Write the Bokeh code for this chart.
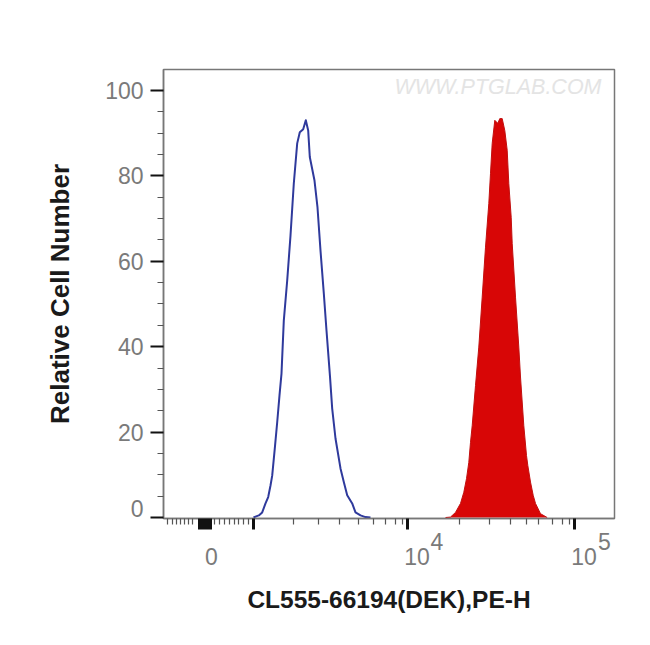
from bokeh.plotting import figure
from bokeh.embed import file_html
from bokeh.resources import INLINE
from bokeh.models import FixedTicker, Label, Range1d, LinearAxis

blue_x = [90, 92, 95.3, 98.7, 102, 104.7, 107, 108.7, 111.3, 113.7, 116, 118, 120.3, 123.7, 127, 130.3, 133.7, 136.3, 139.7,
          142.3, 144.7, 146.3, 151, 154, 157, 160.3, 163, 166.5, 168.7, 172, 177, 180.3, 183.7, 188.7, 192, 197, 202, 207]
blue_y = [0, 0.2, 0.5, 1.2, 3.3, 4.8, 7.5, 9.8, 16.2, 22.3, 28.6, 33.7, 46.1, 55.5, 66, 78.2, 87.6, 90.2, 90.9,
          93, 90.6, 84.4, 78.9, 72.6, 62.5, 52.5, 43.8, 33, 25.5, 18.5, 11.5, 8.3, 5.2, 3.3, 1.2, 0.5, 0.1, 0]
red_x = [282, 287, 292, 297, 300.3, 303, 305.3, 307, 308.7, 312, 315.3, 318.7, 322, 325.3, 327, 328.7, 331.3, 334.3, 336.3, 338.7,
         341.3, 343.7, 345.3, 347.7, 348.7, 352, 355.3, 357, 360.3, 363, 364.3, 367, 369.7, 372, 377, 383.7]
red_y = [0, 0.1, 1.2, 3.3, 5.9, 9.1, 12.9, 17.6, 21.5, 30.9, 39.9, 51.6, 63.3, 73.5, 80.6, 87.6, 93, 92.3, 93.4, 93.4,
         90.6, 86, 78.2, 70.3, 64.2, 51.6, 39.9, 32.9, 21.5, 14.5, 12.2, 8.3, 5.2, 3.3, 0.9, 0]

x_major = [35.5, 38, 41, 44, 46.5, 90, 244, 411]
x_minor = [3.7, 8.7, 12.7, 17, 21, 25, 28.7, 51, 56, 61, 66, 71, 75, 80, 85,
           130, 155, 176, 195, 210, 222, 232, 239,
           296, 326, 347, 363, 375, 389, 399, 406]
y_major = [0, 20, 40, 60, 80, 100]
y_minor = [5, 10, 15, 25, 30, 35, 45, 50, 55, 65, 70, 75, 85, 90, 95]

x_base_at = [48, 253.5, 420.5]
x_base_text = ["0", "10", "10"]
x_exp_at = [273.5, 441]
x_exp_text = ["4", "5"]
y_label_at = [2.2, 20, 40, 60, 80, 100]
y_label_text = ["0", "20", "40", "60", "80", "100"]

x_title = "CL555-66194(DEK),PE-H"
y_title = "Relative Cell Number"
watermark = "WWW.PTGLAB.COM"

FONT = "Liberation Sans"
GREY = "#7a7a7a"
FRAME = "#777777"

p = figure(width=642, height=637, output_backend="svg", toolbar_location=None,
           x_range=Range1d(0, 451), y_range=Range1d(-0.23, 104.9),
           min_border_left=163, min_border_right=28, min_border_top=69, min_border_bottom=119)
p.grid.visible = False
p.outline_line_color = FRAME
p.outline_line_width = 1.5
p.background_fill_color = "white"

p.varea(red_x, [0] * len(red_x), red_y, fill_color="#d80606")
p.line(red_x, red_y, line_color="#c21010", line_width=1)
p.line(blue_x, blue_y, line_color="#2f3a9c", line_width=2, line_join="round")

xa = p.xaxis[0]
xa.ticker = FixedTicker(ticks=x_major, minor_ticks=x_minor)
xa.major_label_overrides = {t: "" for t in x_major}
xa.major_label_text_font_size = "1px"
xa.major_label_standoff = 0
xa.axis_line_color = FRAME
xa.axis_line_width = 1.5
xa.major_tick_line_color = "#111111"
xa.major_tick_line_width = 3
xa.major_tick_in = 0
xa.major_tick_out = 11
xa.minor_tick_line_color = "#555555"
xa.minor_tick_line_width = 1.2
xa.minor_tick_in = 0
xa.minor_tick_out = 6


def label_axis(at, text, standoff):
    ax = LinearAxis(ticker=FixedTicker(ticks=at), major_label_overrides=dict(zip(at, text)))
    ax.axis_line_color = None
    ax.major_tick_line_color = None
    ax.minor_tick_line_color = None
    ax.major_tick_in = 0
    ax.major_tick_out = 0
    ax.minor_tick_in = 0
    ax.minor_tick_out = 0
    ax.major_label_text_font = FONT
    ax.major_label_text_font_size = "23px"
    ax.major_label_text_color = GREY
    ax.major_label_standoff = standoff
    return ax


exp_axis = label_axis(x_exp_at, x_exp_text, 3)
p.add_layout(exp_axis, "below")
base_axis = label_axis(x_base_at, x_base_text, -5)
base_axis.axis_label = x_title
base_axis.axis_label_text_font = FONT
base_axis.axis_label_text_font_style = "bold"
base_axis.axis_label_text_font_size = "24.5px"
base_axis.axis_label_text_color = "#1a1a1a"
base_axis.axis_label_standoff = 18
p.add_layout(base_axis, "below")

ya = p.yaxis[0]
ya.ticker = FixedTicker(ticks=y_major, minor_ticks=y_minor)
ya.major_label_overrides = {t: "" for t in y_major}
ya.major_label_text_font_size = "1px"
ya.major_label_standoff = 0
ya.axis_line_color = FRAME
ya.axis_line_width = 1.5
ya.major_tick_line_color = "#111111"
ya.major_tick_line_width = 2
ya.major_tick_in = 0
ya.major_tick_out = 13
ya.minor_tick_line_color = "#555555"
ya.minor_tick_line_width = 1.2
ya.minor_tick_in = 0
ya.minor_tick_out = 6

y_text_axis = label_axis(y_label_at, y_label_text, 7)
y_text_axis.axis_label = y_title
y_text_axis.axis_label_text_font = FONT
y_text_axis.axis_label_text_font_style = "bold"
y_text_axis.axis_label_text_font_size = "26px"
y_text_axis.axis_label_text_color = "#1a1a1a"
y_text_axis.axis_label_standoff = 27
p.add_layout(y_text_axis, "left")

p.add_layout(Label(x=231, y=100, text=watermark, x_offset=0, y_offset=3, text_font=FONT,
                   text_font_size="21.5px", text_color="#e4e4e4", text_font_style="italic",
                   text_baseline="alphabetic"))

open("out.html", "w").write(file_html(p, INLINE))
